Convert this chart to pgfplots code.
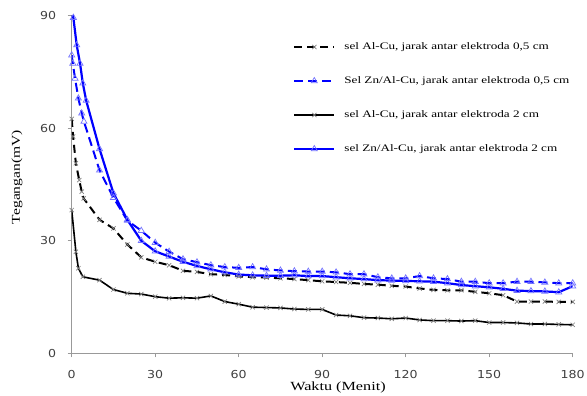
\documentclass[border=0pt]{standalone}
\usepackage{fontspec}
\setmainfont{Liberation Serif}
\newfontfamily\tickfont{DejaVu Sans}
\usepackage{pgfplots}
\usepackage{pgfplotstable}
\pgfplotsset{compat=1.18}
\usepackage{graphicx}
\newcommand\tl[1]{\scalebox{1.15}[1]{\tickfont\fontsize{11}{13}\selectfont #1}}
\newcommand\lt[1]{\scalebox{1.32}[1]{#1}}

\pgfplotstableread{
t v
0 62.5
0.5 57.8
1.5 50.7
2.7 46.2
3.6 43.1
4.3 41.3
10 35.6
15 33.3
20 29.0
25 25.6
30 24.4
35 23.5
40 22.0
45 21.7
50 21.1
55 20.9
60 20.5
65 20.3
70 20.2
75 20.0
80 19.8
85 19.5
90 19.2
95 19.0
100 18.8
105 18.5
110 18.3
115 18.0
120 17.8
125 17.3
130 16.9
135 16.8
140 16.8
145 16.4
150 16.0
155 15.5
160 13.8
165 13.8
170 13.8
175 13.7
180 13.7
}\alcuA

\pgfplotstableread{
t v
0 79.5
0.4 77.3
1.2 73.3
2.4 68.0
3.6 64.0
4.4 61.8
10 48.8
15 41.5
20 35.4
25 32.7
30 29.5
35 27.1
40 25.1
45 24.3
50 23.5
55 23.0
60 22.8
65 23.0
70 22.4
75 22.1
80 21.9
85 21.8
90 21.8
95 21.6
100 21.1
105 21.1
110 20.3
115 20.0
120 20.0
125 20.6
130 20.0
135 19.8
140 19.1
145 19.1
150 18.7
155 18.7
160 19.1
165 19.1
170 18.9
175 18.7
180 18.7
}\znA

\pgfplotstableread{
t v
0 38.2
1.5 27.1
2.4 22.7
4 20.4
10 19.5
15 17.0
20 16.0
25 15.8
30 15.1
35 14.7
40 14.8
45 14.7
50 15.3
55 13.8
60 13.1
65 12.3
70 12.2
75 12.1
80 11.8
85 11.7
90 11.7
95 10.2
100 10.0
105 9.5
110 9.4
115 9.2
120 9.4
125 8.9
130 8.7
135 8.7
140 8.6
145 8.7
150 8.2
155 8.2
160 8.1
165 7.8
170 7.8
175 7.7
180 7.6
}\alcuB

\pgfplotstableread{
t v
0 91.0
0.6 89.5
1.8 82.2
3 77.3
4 72.0
5.2 67.4
10 54.5
15 42.7
20 35.6
25 30.0
30 27.2
35 25.8
40 24.4
45 23.3
50 22.4
55 21.6
60 21.0
65 20.8
70 20.7
75 20.7
80 20.8
85 20.6
90 20.6
95 20.3
100 20.0
105 19.8
110 19.5
115 19.4
120 19.3
125 19.2
130 19.1
135 18.7
140 18.2
145 17.9
150 17.6
155 17.2
160 16.7
165 16.6
170 16.5
175 16.3
180 17.9
}\znB

\begin{document}
\begin{tikzpicture}
\path[use as bounding box] (-71.7bp,-42.7bp) rectangle (515.3bp,353.3bp);
\begin{axis}[
  scale only axis, width=501bp, height=337.5bp,
  at={(0,0)}, anchor=south west,
  xmin=0, xmax=180, ymin=0, ymax=90,
  axis x line*=bottom, axis y line*=left,
  xtick={0,30,60,90,120,150,180}, ytick={0,30,60,90},
  xticklabels={\tl{0},\tl{30},\tl{60},\tl{90},\tl{120},\tl{150},\tl{180}},
  yticklabels={\tl{0},\tl{30},\tl{60},\tl{90}},
  tick align=outside, major tick length=4bp,
  axis line style={draw=black!40, line width=0.6bp},
  tick style={draw=black!40, line width=0.6bp},
  ticklabel style={text=black!75},
  xticklabel style={anchor=base, yshift=-21bp},
  yticklabel style={anchor=east, xshift=-8bp},
  xlabel={\fontsize{12.5}{14}\selectfont\scalebox{1.3}[1]{Waktu (Menit)}},
  xlabel style={at={(axis description cs:0.5315,-0.1096)}, anchor=base},
  ylabel={\fontsize{12}{14}\selectfont\scalebox{1.3}[1]{Tegangan(mV)}},
  ylabel style={at={(axis description cs:-0.109,0.522)}, anchor=center},
  legend cell align=left,
  legend style={draw=none, fill=none, at={(axis description cs:0.4417,0.9215)}, anchor=north west,
    inner sep=0pt, row sep=25bp, column sep=9bp,
    nodes={inner sep=0pt, text height=7bp, text depth=2bp},
    font=\fontsize{10}{12}\selectfont},
  legend image code/.code={\draw[mark repeat=2,mark phase=2,#1] plot coordinates {(0bp,0bp) (20bp,0bp) (40bp,0bp)};},
]
\addplot[draw=black, line width=2bp, dash pattern=on 8bp off 5bp,
  mark=x, mark size=3bp, mark options={solid, draw=black!50, line width=0.7bp}]
  table[x=t,y=v] {\alcuA};
\addlegendentry{\lt{sel Al-Cu, jarak antar elektroda 0,5 cm}}
\addplot[draw=blue, line width=2bp, dash pattern=on 9bp off 5bp,
  mark=triangle, mark size=3.5bp, mark options={solid, draw=blue!55, line width=0.7bp}]
  table[x=t,y=v] {\znA};
\addlegendentry{\lt{Sel Zn/Al-Cu, jarak antar elektroda 0,5 cm}}
\addplot[draw=black, line width=1.6bp,
  mark=x, mark size=3bp, mark options={solid, draw=black!50, line width=0.7bp}]
  table[x=t,y=v] {\alcuB};
\addlegendentry{\lt{sel Al-Cu, jarak antar elektroda 2 cm}}
\addplot[draw=blue, line width=2.2bp,
  mark=triangle, mark size=3.5bp, mark options={solid, draw=blue!55, line width=0.7bp}]
  table[x=t,y=v] {\znB};
\addlegendentry{\lt{sel Zn/Al-Cu, jarak antar elektroda 2 cm}}
\end{axis}
\end{tikzpicture}
\end{document}
